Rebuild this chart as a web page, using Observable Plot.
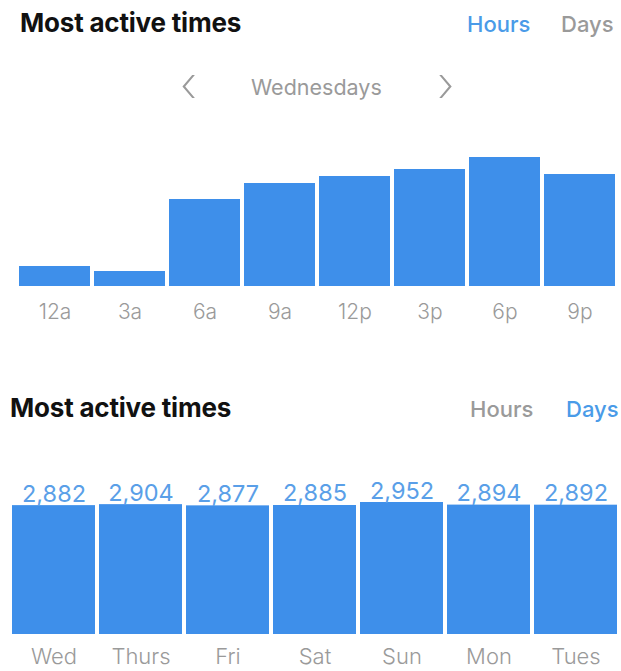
<!DOCTYPE html>
<html>
<head>
<meta charset="utf-8">
<script src="https://cdn.jsdelivr.net/npm/d3@7"></script>
<script src="https://cdn.jsdelivr.net/npm/@observablehq/plot@0.6"></script>
<style>
  html, body { margin: 0; padding: 0; background: #fff; }
  body { width: 621px; height: 671px; position: relative; overflow: hidden; font-family: Inter, "Noto Sans", sans-serif; }
  .abs { position: absolute; white-space: nowrap; line-height: 1; }
  .title { font-weight: 700; font-size: 26px; color: #111; letter-spacing: -0.2px; }
  .tab { font-size: 22px; font-weight: 500; }
  .blue { color: #4a9be8; }
  .gray { color: #9a9a9a; }
  .nav { font-size: 21.5px; color: #9a9a9a; }
  .chev { font-size: 50px; color: #9a9a9a; font-weight: 200; }
  #c1 { position: absolute; left: 0; top: 140px; }
  #c2 { position: absolute; left: 0; top: 470px; }
</style>
</head>
<body>
<div class="abs title" style="left:20px; top:10px;">Most active times</div>
<div class="abs tab blue" style="left:467px; top:13px;">Hours</div>
<div class="abs tab gray" style="left:561px; top:13px;">Days</div>
<div class="abs chev" style="left:180px; top:59px;">&lsaquo;</div>
<div class="abs nav" style="left:251px; top:77px;">Wednesdays</div>
<div class="abs chev" style="left:437px; top:59px;">&rsaquo;</div>
<div id="c1"></div>

<div class="abs title" style="left:10px; top:395px;">Most active times</div>
<div class="abs tab gray" style="left:470px; top:398px;">Hours</div>
<div class="abs tab blue" style="left:566px; top:398px;">Days</div>
<div id="c2"></div>

<script>
// Hours chart (relative activity)
const hourLabels = ["12a", "3a", "6a", "9a", "12p", "3p", "6p", "9p"];
const hourValues = [20, 15, 87, 103, 110, 117, 129, 112];

// Days chart
const dayLabels = ["Wed", "Thurs", "Fri", "Sat", "Sun", "Mon", "Tues"];
const dayValues = [2882, 2904, 2877, 2885, 2952, 2894, 2892];

const barColor = "#3e8fea";
const hours = hourLabels.map((h, i) => ({label: h, value: hourValues[i]}));
const days = dayLabels.map((d, i) => ({label: d, value: dayValues[i]}));

const p1 = Plot.plot({
  width: 621,
  height: 200,
  marginLeft: 19,
  marginRight: 5,
  marginTop: 17,
  marginBottom: 54,
  style: {fontFamily: "Inter, 'Noto Sans', sans-serif", background: "transparent"},
  x: {domain: hourLabels, paddingInner: 0.05, paddingOuter: 0, label: null},
  y: {domain: [0, 129], axis: null},
  marks: [
    Plot.barY(hours, {x: "label", y: "value", fill: barColor}),
    Plot.axisX({tickSize: 0, tickPadding: 18, fontSize: 21, fill: "#9a9a9a", label: null, fontWeight: 300})
  ]
});
document.getElementById("c1").appendChild(p1);

const p2 = Plot.plot({
  width: 621,
  height: 201,
  marginLeft: 10,
  marginRight: 3,
  marginTop: 32,
  marginBottom: 37,
  style: {fontFamily: "Inter, 'Noto Sans', sans-serif", background: "transparent"},
  x: {domain: dayLabels, paddingInner: 0.05, paddingOuter: 0, label: null},
  y: {domain: [0, 2952], axis: null},
  marks: [
    Plot.barY(days, {x: "label", y: "value", fill: barColor}),
    Plot.text(days, {x: "label", y: "value", text: d => d3.format(",")(d.value), lineAnchor: "bottom", dy: -4, fontSize: 23.5, fill: "#5a9fe8"}),
    Plot.axisX({tickSize: 0, tickPadding: 14, fontSize: 22, fill: "#9a9a9a", label: null, fontWeight: 300})
  ]
});
document.getElementById("c2").appendChild(p2);
</script>
</body>
</html>
